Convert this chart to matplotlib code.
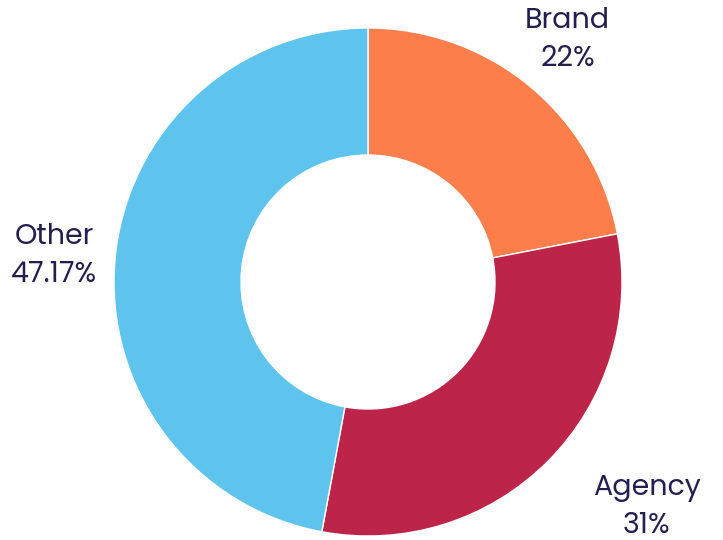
import matplotlib
matplotlib.use("Agg")
import matplotlib.pyplot as plt
import numpy as np

categories = ["Brand", "Agency", "Other"]
values = [22, 31, 47.17]
value_labels = ["22%", "31%", "47.17%"]
colors = ["#FC7E4B", "#BC2549", "#5EC4EE"]

W, H = 723, 540
fig = plt.figure(figsize=(W / 100, H / 100), dpi=100)
cx, cy, r = 368, 282, 254
ax = fig.add_axes([(cx - r) / W, (H - cy - r) / H, 2 * r / W, 2 * r / H])
wedges, _ = ax.pie(values, colors=colors, startangle=90, counterclock=False,
                   radius=1.0, wedgeprops=dict(width=0.5, edgecolor="white", linewidth=1))
ax.set_xlim(-1, 1)
ax.set_ylim(-1, 1)
ax.set_aspect("equal")
ax.axis("off")

# label placement (distance, angle shift) per slice
dist = [1.235, 1.41, 1.24]
shift = [0.0, 5.8, 0.5]
for w, cat, lab, d, s in zip(wedges, categories, value_labels, dist, shift):
    mid = np.deg2rad((w.theta1 + w.theta2) / 2 + s)
    ax.text(d * np.cos(mid), d * np.sin(mid), f"{cat}\n{lab}", ha="center", va="center",
            fontsize=20.5, color="#241F4F", family=["Poppins", "Lato", "DejaVu Sans"],
            linespacing=1.5, clip_on=False)

fig.savefig("out.png", dpi=100)
